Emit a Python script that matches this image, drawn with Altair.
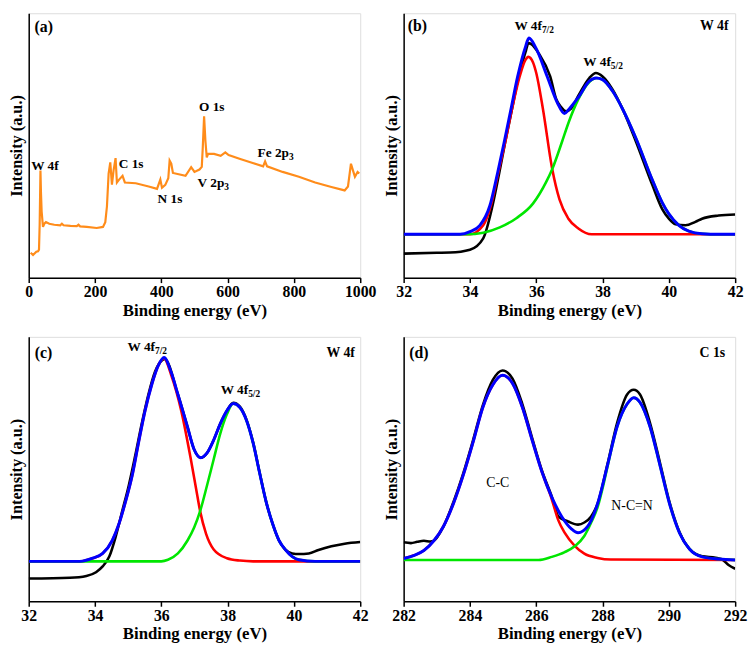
import altair as alt
import pandas as pd

FONT = "Liberation Serif"
W, H = 336, 268

# ---------------- data ----------------
# (a) survey spectrum
a_x = [6, 13, 23, 28, 31, 33, 35.4, 37, 39, 43, 47, 52, 62, 77, 95, 100, 105, 126, 145, 150, 155, 175, 205, 224,
       231, 236, 241, 246, 251, 256, 262, 266, 272, 283, 290, 323, 362, 387, 397, 402, 412, 421, 425, 430, 435,
       449, 473, 490, 500, 515, 522, 525, 529, 533, 537, 541, 559, 579, 593, 603, 638, 678, 707, 713, 719, 766,
       815, 864, 913, 953, 963, 972, 978, 984, 992, 997]
a_y = [9.4, 8.6, 9.8, 10.0, 10.6, 20.0, 40.5, 32.0, 25.0, 19.2, 20.4, 21.0, 20.4, 20.0, 19.8, 20.4, 19.8, 19.6,
       19.5, 20.0, 19.4, 19.2, 18.8, 19.2, 21.0, 27.0, 39.4, 43.6, 35.2, 40.6, 45.2, 36.0, 37.0, 38.5, 36.0, 35.7,
       34.5, 33.6, 37.1, 34.0, 35.1, 37.6, 44.3, 43.1, 39.6, 39.2, 38.5, 41.8, 40.0, 40.9, 41.9, 49.2, 61.0, 51.7,
       45.5, 46.8, 46.8, 46.1, 47.4, 46.4, 44.9, 43.3, 42.1, 44.0, 42.1, 40.0, 38.2, 36.0, 34.3, 33.0, 34.5, 43.1,
       40.6, 38.2, 40.0, 39.4]

# (b) W 4f
b_black_x = [32.0, 33.0, 33.4, 34.0, 34.4, 34.68, 34.88, 35.07, 35.27, 35.47, 35.69, 35.76, 35.85, 36.08, 36.42,
             36.6, 36.75, 36.9, 37.05, 37.27, 37.6, 37.8, 38.0, 38.3, 38.6, 39.0, 39.5, 39.8, 40.0, 40.2, 40.5,
             40.8, 41.0, 41.5, 42.0]
b_black_y = [9.1, 9.4, 9.5, 10.6, 14.9, 27.2, 39.4, 51.7, 63.9, 76.1, 85.9, 88.7, 88.3, 84.7, 76.1, 67.6, 64.5,
             62.9, 63.9, 68.8, 75.5, 77.4, 76.1, 71.2, 63.9, 51.7, 35.1, 25.9, 22.3, 20.2, 19.8, 21.1, 22.3, 23.5,
             23.9]
b_fit_x = [32.0, 33.7, 34.0, 34.3, 34.6, 34.83, 35.04, 35.24, 35.44, 35.67, 35.78, 35.98, 36.33, 36.63, 36.85,
           37.0, 37.27, 37.6, 37.8, 38.0, 38.3, 38.6, 39.0, 39.5, 39.8, 40.0, 40.3, 40.6, 41.0, 41.5, 42.0]
b_fit_y = [16.4, 16.4, 17.4, 19.8, 27.2, 39.4, 51.7, 63.9, 76.1, 87.1, 90.6, 87.1, 76.1, 66.3, 62.1, 63.9, 68.2,
           74.3, 75.5, 74.9, 70.6, 63.9, 52.9, 37.0, 28.4, 24.1, 19.8, 17.6, 16.6, 16.4, 16.4]
b_red_x = [32.0, 34.0, 34.4, 34.63, 34.85, 35.07, 35.27, 35.5, 35.67, 35.76, 35.9, 36.0, 36.2, 36.48, 36.7, 36.97,
           37.27, 37.67, 42.0]
b_red_y = [16.4, 16.4, 19.8, 27.2, 39.4, 51.7, 63.9, 76.1, 82.3, 83.5, 81.5, 77.4, 63.9, 41.2, 29.6, 22.3, 18.6,
           16.4, 16.4]
b_green_x = [32.0, 33.9, 34.4, 34.9, 35.4, 35.9, 36.3, 36.48, 36.78, 36.97, 37.27, 37.6, 37.83, 38.0, 38.3, 38.6,
             39.0, 39.5, 39.8, 40.0, 40.3, 40.6, 41.0, 41.5, 42.0]
b_green_y = [16.4, 16.4, 17.0, 19.0, 22.5, 28.0, 36.2, 41.0, 51.5, 58.5, 67.5, 74.0, 75.5, 74.9, 70.6, 63.9, 52.9,
             37.0, 28.4, 24.1, 19.8, 17.6, 16.6, 16.4, 16.4]

# (c) W 4f
c_black_x = [32.0, 33.24, 33.74, 34.03, 34.23, 34.43, 34.62, 34.82, 35.02, 35.21, 35.41, 35.61, 35.81, 36.05, 36.1,
             36.5, 36.79, 36.99, 37.19, 37.38, 37.58, 37.78, 37.98, 38.17, 38.37, 38.57, 38.77, 38.96, 39.16, 39.36,
             39.55, 39.75, 39.95, 40.15, 40.45, 40.74, 41.13, 41.53, 42.0]
c_black_y = [8.6, 8.9, 9.6, 11.0, 13.2, 16.9, 24.3, 34.1, 43.9, 54.9, 67.2, 78.2, 86.8, 91.4, 91.6, 78.2, 65.9,
             57.4, 54.3, 56.1, 61.0, 67.2, 72.1, 75.1, 73.6, 68.6, 60.0, 49.0, 37.7, 29.2, 23.0, 19.4, 18.1, 17.9,
             18.1, 19.4, 20.8, 21.8, 22.4]
c_fit_x = [32.0, 33.54, 33.93, 34.23, 34.52, 34.72, 34.92, 35.12, 35.31, 35.51, 35.71, 35.91, 36.08, 36.3, 36.5,
           36.79, 36.99, 37.19, 37.38, 37.58, 37.78, 37.98, 38.17, 38.37, 38.57, 38.77, 38.96, 39.16, 39.36, 39.55,
           39.75, 39.95, 40.15, 40.64, 42.0]
c_fit_y = [15.1, 15.1, 16.3, 18.1, 23.0, 29.2, 37.7, 47.5, 59.8, 72.1, 81.9, 89.2, 92.2, 86.5, 78.2, 65.9, 57.4,
           54.3, 56.1, 61.0, 67.2, 72.1, 74.8, 73.3, 68.4, 59.8, 48.8, 37.7, 29.2, 23.0, 19.4, 16.9, 15.7, 15.1,
           15.1]
c_red_x = [32.0, 33.54, 33.93, 34.23, 34.52, 34.72, 34.92, 35.12, 35.31, 35.51, 35.71, 35.91, 36.08, 36.3, 36.6,
           36.89, 37.05, 37.17, 37.35, 37.58, 37.98, 38.37, 38.77, 42.0]
c_red_y = [15.1, 15.1, 16.3, 18.1, 23.0, 29.2, 37.7, 47.5, 59.8, 72.1, 81.9, 89.2, 91.8, 85.5, 72.1, 53.7, 42.5,
           34.1, 25.5, 19.6, 16.3, 15.4, 15.1, 15.1]
c_green_x = [32.0, 36.0, 36.2, 36.5, 36.79, 36.99, 37.17, 37.38, 37.58, 37.78, 37.98, 38.17, 38.37, 38.57, 38.77,
             38.96, 39.16, 39.36, 39.55, 39.75, 39.95, 40.15, 40.64, 42.0]
c_green_y = [15.1, 15.1, 15.7, 18.1, 23.0, 27.9, 34.1, 43.9, 53.7, 63.5, 70.8, 74.8, 73.3, 68.4, 59.8, 48.8, 37.7,
             29.2, 23.0, 19.4, 16.9, 15.7, 15.1, 15.1]

# (d) C 1s
d_black_x = [282.0, 282.22, 282.41, 282.61, 282.81, 282.91, 283.2, 283.5, 283.8, 284.09, 284.39, 284.69, 284.98,
             285.28, 285.58, 285.87, 286.17, 286.47, 286.67, 286.96, 287.26, 287.45, 287.65, 287.85, 288.15,
             288.44, 288.74, 288.94, 289.13, 289.43, 289.73, 290.02, 290.32, 290.62, 291.01, 291.41, 291.6,
             291.8, 292.0]
d_black_y = [22.3, 22.0, 22.5, 22.9, 22.6, 22.9, 28.3, 37.5, 48.5, 60.8, 74.2, 83.7, 87.3, 84.3, 74.6, 62.0, 49.5,
             39.5, 32.0, 30.2, 29.0, 29.8, 32.0, 36.9, 52.0, 67.5, 78.2, 80.0, 78.2, 67.5, 52.5, 37.5, 26.2, 19.8,
             17.0, 16.5, 15.9, 13.7, 12.3]
d_fit_x = [282.0, 282.32, 282.61, 282.91, 283.2, 283.5, 283.8, 284.09, 284.39, 284.69, 284.98, 285.28, 285.58,
           285.87, 286.17, 286.47, 286.77, 287.06, 287.26, 287.55, 287.85, 288.15, 288.44, 288.74, 288.94, 289.13,
           289.43, 289.73, 290.02, 290.32, 290.62, 291.01, 291.51, 292.0]
d_fit_y = [16.2, 17.4, 19.2, 22.9, 28.3, 36.9, 47.8, 60.0, 73.4, 81.9, 85.5, 82.5, 73.4, 61.2, 49.0, 39.3, 32.0,
           27.4, 25.9, 28.3, 36.9, 51.5, 66.1, 74.6, 77.0, 75.2, 66.1, 51.5, 36.9, 25.9, 19.8, 16.8, 16.0, 15.6]
d_red_x = [282.0, 282.32, 282.61, 282.91, 283.2, 283.5, 283.8, 284.09, 284.39, 284.69, 284.98, 285.28, 285.58,
           285.87, 286.17, 286.47, 286.66, 286.86, 287.16, 287.45, 287.85, 288.25, 292.0]
d_red_y = [16.2, 17.4, 19.2, 22.9, 28.3, 36.9, 47.8, 60.0, 73.4, 81.9, 85.5, 82.5, 73.4, 61.2, 49.0, 38.5, 30.8,
           25.9, 21.0, 18.0, 16.4, 15.8, 15.6]
d_green_x = [282.0, 286.07, 286.47, 286.86, 287.16, 287.45, 287.65, 287.85, 288.05, 288.15, 288.44, 288.74,
             288.94, 289.13, 289.43, 289.73, 290.02, 290.32, 290.62, 291.01, 291.51, 292.0]
d_green_y = [15.6, 15.6, 16.8, 18.6, 20.8, 24.7, 29.6, 35.6, 45.4, 51.0, 66.1, 74.6, 77.0, 75.2, 66.1, 51.5, 36.9,
             25.9, 19.8, 16.8, 16.0, 15.6]

# axis ticks
a_ticks = [0, 200, 400, 600, 800, 1000]
w_ticks = [32, 34, 36, 38, 40, 42]
c_ticks = [282, 284, 286, 288, 290, 292]

# annotations: (x in eV, y in a.u.)
a_peak_text = ["W 4f", "C 1s", "N 1s", "O 1s"]
a_peak_x = [49, 309, 426, 552]
a_peak_y = [42.1, 42.8, 29.9, 64.5]
a_sub_main = ["V 2p", "Fe 2p"]
a_sub_sub = ["3", "3"]
a_sub_x = [590, 785]
a_sub_y = [35.6, 47.0]

b_sub_main = ["W 4f", "W 4f"]
b_sub_sub = ["7/2", "5/2"]
b_sub_x = [36.17, 38.25]
b_sub_y = [95.1, 81.6]
c_sub_main = ["W 4f", "W 4f"]
c_sub_sub = ["7/2", "5/2"]
c_sub_x = [35.81, 38.62]
c_sub_y = [96.3, 79.8]

d_peak_text = ["C-C", "N-C=N"]
d_peak_x = [284.84, 288.89]
d_peak_y = [44.8, 35.9]

panel_tags = ["(a)", "(b)", "(c)", "(d)"]
tag_x = [17.7, 32.12, 32.18, 282.17]
tag_y = [94.9, 95.1, 93.9, 93.8]
corner_text = ["", "W 4f", "W 4f", "C 1s"]
corner_x = [0, 41.8, 41.84, 291.7]
corner_y = [0, 95.1, 93.9, 93.8]

# ---------------- chart helpers ----------------
BLACK, RED, GREEN, BLUE, ORANGE = "#000000", "#ff0000", "#00e600", "#0000ff", "#ff8c1a"


def encs(domain, ticks):
    x = alt.X("e:Q", scale=alt.Scale(domain=domain, nice=False, zero=False),
              axis=alt.Axis(values=ticks, format="d", title="Binding energy (eV)", grid=False,
                            titleFont=FONT, titleFontSize=17, titleFontWeight="bold", titleColor="black",
                            labelFont=FONT, labelFontSize=16, labelFontWeight="bold", labelColor="black",
                            labelPadding=1, titlePadding=3, tickSize=5, tickWidth=1.5, tickColor="black",
                            domainColor="black", domainWidth=1.5, labelFlush=False, labelOverlap=False))
    y = alt.Y("v:Q", scale=alt.Scale(domain=[0, 100], nice=False, zero=False),
              axis=alt.Axis(title="Intensity (a.u.)", labels=False, ticks=False, grid=False,
                            titleFont=FONT, titleFontSize=16.5, titleFontWeight="bold", titleColor="black",
                            titlePadding=4, domainColor="black", domainWidth=1.5))
    return x, y


def line(xs, ys, color, width, domain, ticks, interp="monotone"):
    x, y = encs(domain, ticks)
    df = pd.DataFrame({"e": xs, "v": ys})
    return alt.Chart(df).mark_line(color=color, strokeWidth=width, interpolate=interp, clip=True).encode(x=x, y=y)


def texts(xs, ys, ts, domain, ticks, size, align, weight="bold", dy=0):
    x, y = encs(domain, ticks)
    df = pd.DataFrame({"e": xs, "v": ys, "t": ts})
    return alt.Chart(df).mark_text(font=FONT, fontSize=size, fontWeight=weight, align=align, baseline="middle",
                                   color="black", dy=dy).encode(x=x, y=y, text="t:N")


def sublabels(xs, ys, mains, subs, domain, ticks, size, subsize):
    return [texts(xs, ys, mains, domain, ticks, size, "right"),
            texts(xs, ys, subs, domain, ticks, subsize, "left", dy=4)]


def fitted(i, domain, ticks, black, red, green, blue, sub):
    layers = [line(*black, BLACK, 2.6, domain, ticks),
              line(*red, RED, 2.6, domain, ticks),
              line(*green, GREEN, 2.6, domain, ticks),
              line(*blue, BLUE, 3.0, domain, ticks),
              texts([tag_x[i]], [tag_y[i]], [panel_tags[i]], domain, ticks, 16, "left"),
              texts([corner_x[i]], [corner_y[i]], [corner_text[i]], domain, ticks, 14, "right")]
    layers += sub
    return alt.layer(*layers).properties(width=W, height=H)


a_dom = [0, 1000]
pa = alt.layer(
    line(a_x, a_y, ORANGE, 2.2, a_dom, a_ticks, interp="linear"),
    texts(a_peak_x, a_peak_y, a_peak_text, a_dom, a_ticks, 13.5, "center"),
    *sublabels(a_sub_x, a_sub_y, a_sub_main, a_sub_sub, a_dom, a_ticks, 13.5, 9.5),
    texts([tag_x[0]], [tag_y[0]], [panel_tags[0]], a_dom, a_ticks, 16, "left"),
).properties(width=W, height=H)

w_dom = [32, 42]
pb = fitted(1, w_dom, w_ticks, (b_black_x, b_black_y), (b_red_x, b_red_y), (b_green_x, b_green_y),
            (b_fit_x, b_fit_y), sublabels(b_sub_x, b_sub_y, b_sub_main, b_sub_sub, w_dom, w_ticks, 13.5, 9.5))
pc = fitted(2, w_dom, w_ticks, (c_black_x, c_black_y), (c_red_x, c_red_y), (c_green_x, c_green_y),
            (c_fit_x, c_fit_y), sublabels(c_sub_x, c_sub_y, c_sub_main, c_sub_sub, w_dom, w_ticks, 13.5, 9.5))
d_dom = [282, 292]
pd_ = fitted(3, d_dom, c_ticks, (d_black_x, d_black_y), (d_red_x, d_red_y), (d_green_x, d_green_y),
             (d_fit_x, d_fit_y), [texts(d_peak_x, d_peak_y, d_peak_text, d_dom, c_ticks, 14, "center",
                                        weight="normal")])

chart = alt.ConcatChart(
    concat=[pa, pb, pc, pd_], columns=2, spacing={"row": 60, "column": 44}, bounds="flush",
    padding={"left": 0, "top": 0, "right": 0, "bottom": 0},
).configure_view(stroke="black", strokeWidth=1.5).configure(background="white")

chart.save("out.html", embed_options={"renderer": "svg", "actions": False})
